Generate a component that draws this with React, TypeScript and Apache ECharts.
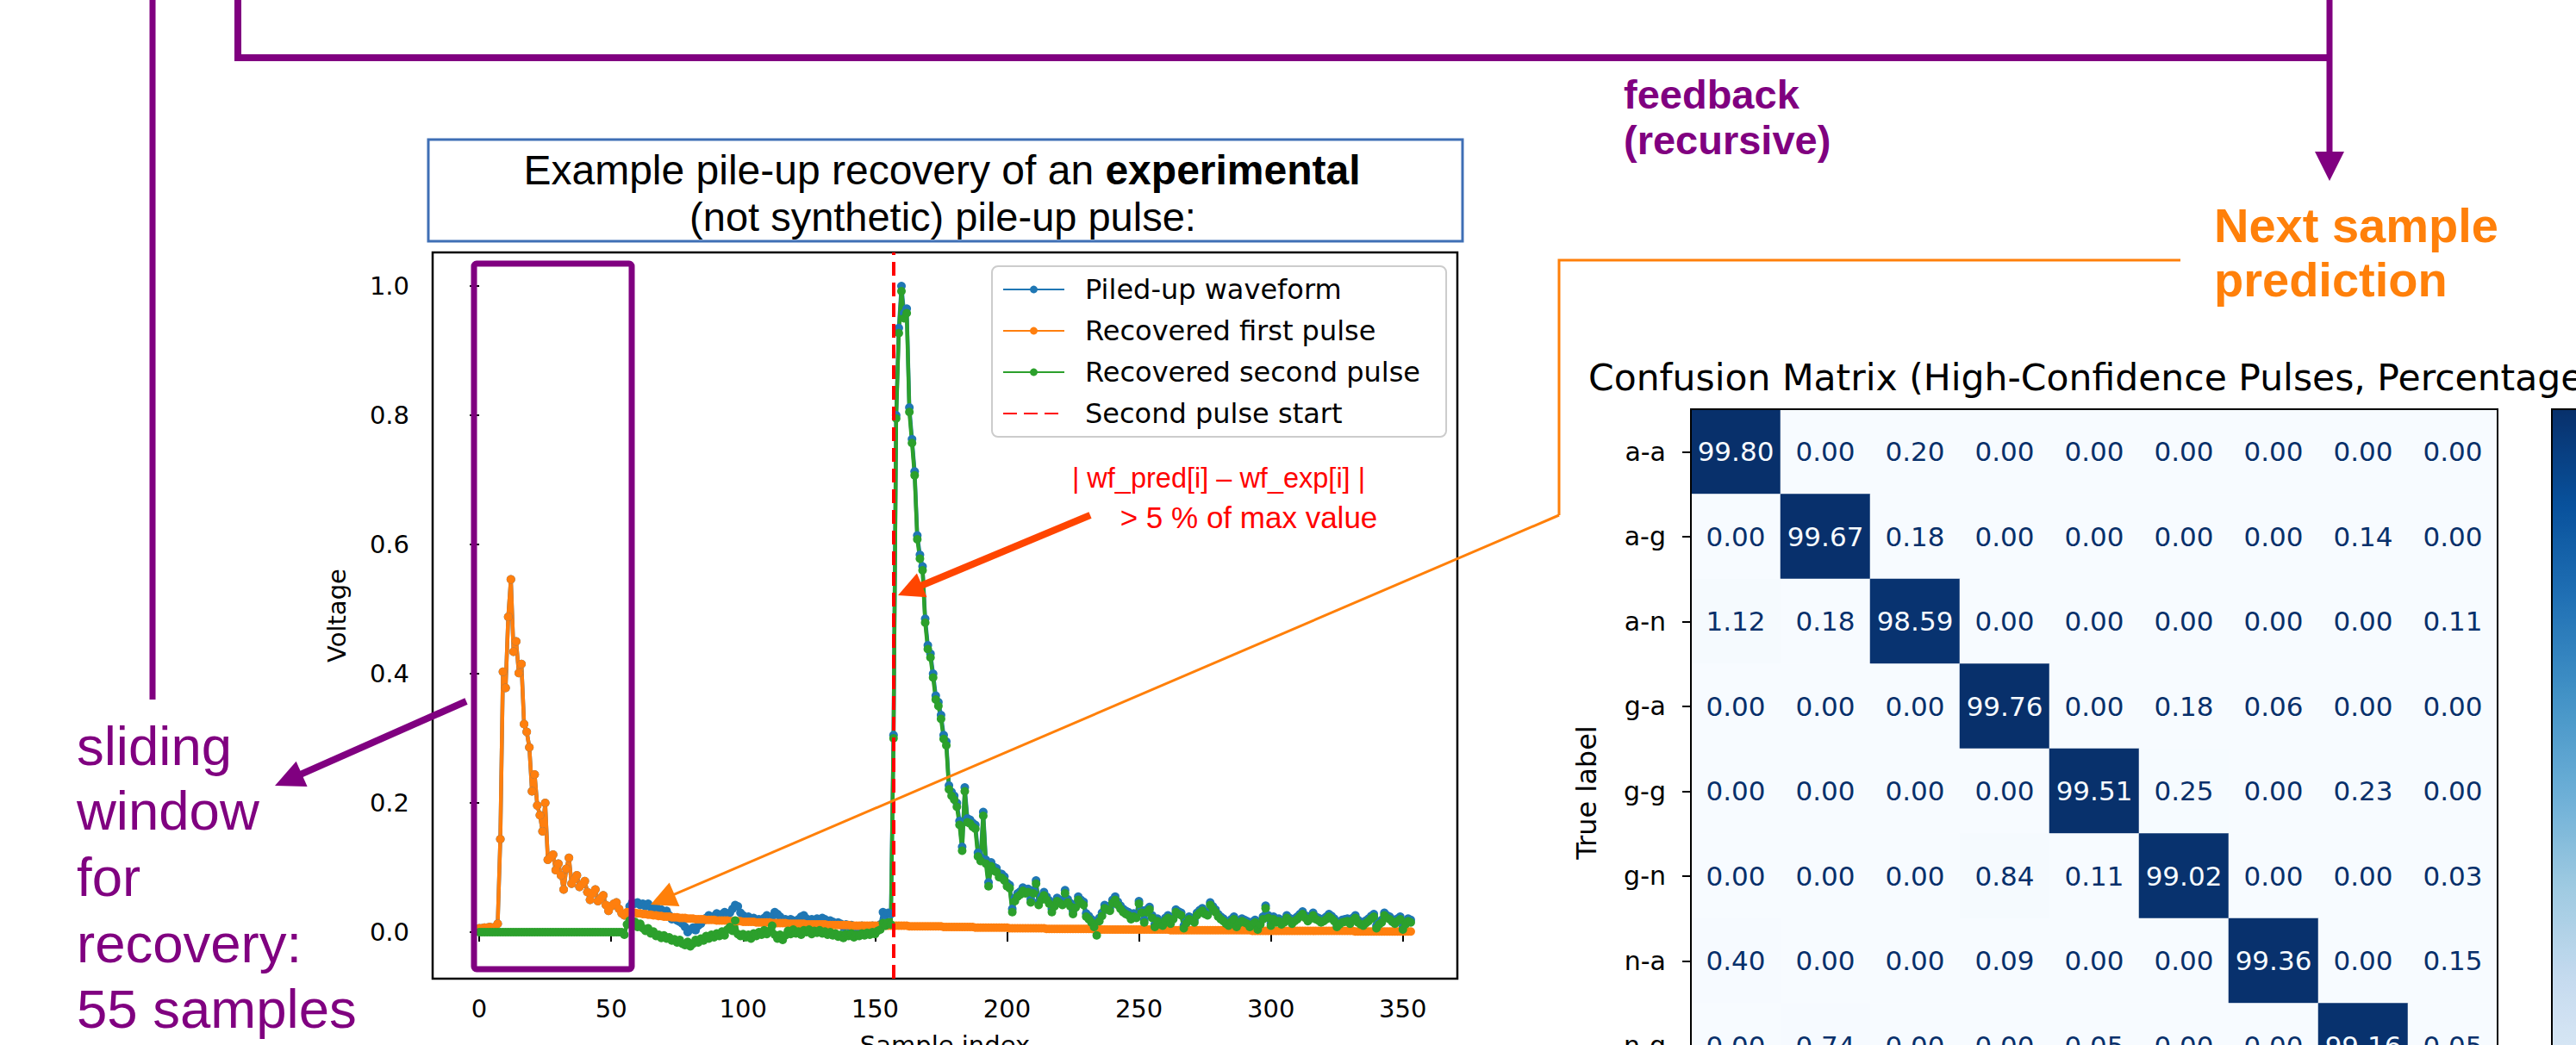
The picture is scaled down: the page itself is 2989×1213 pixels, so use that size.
import React, { useEffect, useRef } from 'react';
import * as echarts from 'echarts';

const W = 2989;
const H = 1213;

// ---------- waveform data (sample index = position in array) ----------
const piledUpWaveform = [
  0.006,0.006,0.007,0.007,0.008,0.007,0.008,0.013,0.144,0.403,
  0.378,0.488,0.546,0.434,0.450,0.401,0.415,0.322,0.310,0.286,
  0.218,0.244,0.196,0.181,0.156,0.200,0.112,0.116,0.120,0.096,
  0.106,0.088,0.066,0.098,0.115,0.075,0.082,0.088,0.070,0.074,
  0.079,0.062,0.050,0.060,0.066,0.048,0.052,0.057,0.042,0.033,
  0.040,0.044,0.046,0.036,0.029,0.026,0.030,0.040,0.046,0.044,
  0.046,0.042,0.044,0.040,0.044,0.039,0.037,0.040,0.031,0.035,
  0.030,0.033,0.026,0.020,0.022,0.018,0.016,0.013,0.008,0.000,
  0.004,0.007,0.003,0.010,0.013,0.018,0.022,0.026,0.020,0.025,
  0.029,0.024,0.028,0.031,0.026,0.030,0.036,0.042,0.040,0.030,
  0.026,0.022,0.024,0.020,0.022,0.018,0.020,0.016,0.022,0.026,
  0.022,0.024,0.031,0.028,0.024,0.018,0.020,0.016,0.020,0.018,
  0.016,0.020,0.024,0.026,0.021,0.018,0.020,0.017,0.021,0.019,
  0.022,0.020,0.015,0.018,0.016,0.012,0.015,0.013,0.008,0.012,
  0.009,0.011,0.006,0.009,0.007,0.010,0.006,0.004,0.007,0.010,
  0.008,0.009,0.012,0.031,0.026,0.030,0.028,0.305,0.800,0.935,
  1.000,0.958,0.965,0.812,0.763,0.713,0.614,0.584,0.566,0.485,
  0.444,0.431,0.400,0.366,0.356,0.336,0.305,0.295,0.227,0.217,
  0.211,0.200,0.172,0.132,0.224,0.176,0.174,0.169,0.166,0.123,
  0.116,0.186,0.112,0.077,0.108,0.101,0.099,0.091,0.090,0.086,
  0.076,0.073,0.036,0.053,0.060,0.063,0.069,0.065,0.067,0.051,
  0.065,0.080,0.047,0.055,0.062,0.055,0.049,0.036,0.045,0.053,
  0.050,0.047,0.065,0.051,0.045,0.033,0.043,0.055,0.050,0.047,
  0.029,0.025,0.020,0.013,0.000,0.022,0.030,0.042,0.040,0.038,
  0.050,0.055,0.047,0.041,0.036,0.033,0.031,0.025,0.029,0.027,
  0.048,0.034,0.019,0.035,0.039,0.026,0.012,0.021,0.016,0.014,
  0.022,0.026,0.017,0.024,0.035,0.032,0.030,0.010,0.018,0.024,
  0.022,0.019,0.030,0.034,0.037,0.032,0.030,0.046,0.040,0.035,
  0.028,0.024,0.021,0.017,0.014,0.020,0.024,0.012,0.018,0.021,
  0.019,0.017,0.012,0.016,0.019,0.008,0.016,0.024,0.041,0.026,
  0.014,0.024,0.019,0.021,0.016,0.019,0.026,0.022,0.017,0.021,
  0.024,0.028,0.032,0.026,0.021,0.025,0.030,0.024,0.022,0.019,
  0.021,0.024,0.028,0.025,0.021,0.012,0.016,0.019,0.020,0.021,
  0.017,0.022,0.026,0.019,0.016,0.014,0.018,0.021,0.025,0.028,
  0.010,0.016,0.019,0.030,0.026,0.024,0.020,0.017,0.021,0.024,
  0.008,0.016,0.021,0.019
];

const recoveredFirstPulse = [
  0.006,0.006,0.007,0.007,0.008,0.007,0.008,0.013,0.144,0.403,
  0.378,0.488,0.546,0.434,0.450,0.401,0.415,0.322,0.310,0.286,
  0.218,0.244,0.196,0.181,0.156,0.200,0.112,0.116,0.120,0.096,
  0.106,0.088,0.066,0.098,0.115,0.075,0.082,0.088,0.070,0.074,
  0.079,0.062,0.050,0.060,0.066,0.048,0.052,0.057,0.042,0.033,
  0.040,0.044,0.046,0.036,0.029,0.026,0.031,0.031,0.030,0.030,
  0.029,0.029,0.028,0.028,0.027,0.027,0.026,0.026,0.025,0.025,
  0.024,0.024,0.024,0.023,0.023,0.023,0.022,0.022,0.022,0.021,
  0.021,0.021,0.020,0.020,0.020,0.020,0.019,0.019,0.019,0.019,
  0.018,0.018,0.018,0.018,0.018,0.017,0.017,0.017,0.017,0.017,
  0.016,0.016,0.016,0.016,0.016,0.015,0.015,0.015,0.015,0.015,
  0.015,0.014,0.014,0.014,0.014,0.014,0.014,0.013,0.013,0.013,
  0.013,0.013,0.013,0.013,0.012,0.012,0.012,0.012,0.012,0.012,
  0.012,0.012,0.011,0.011,0.011,0.011,0.011,0.011,0.011,0.011,
  0.011,0.010,0.010,0.010,0.010,0.010,0.010,0.010,0.010,0.010,
  0.010,0.010,0.010,0.010,0.010,0.010,0.010,0.010,0.010,0.010,
  0.010,0.010,0.010,0.009,0.009,0.009,0.009,0.009,0.009,0.009,
  0.009,0.009,0.009,0.009,0.009,0.009,0.008,0.008,0.008,0.008,
  0.008,0.008,0.008,0.008,0.008,0.008,0.008,0.008,0.007,0.007,
  0.007,0.007,0.007,0.007,0.007,0.007,0.007,0.007,0.007,0.007,
  0.007,0.006,0.006,0.006,0.006,0.006,0.006,0.006,0.006,0.006,
  0.006,0.006,0.006,0.006,0.006,0.005,0.005,0.005,0.005,0.005,
  0.005,0.005,0.005,0.005,0.005,0.005,0.005,0.005,0.005,0.005,
  0.005,0.005,0.005,0.005,0.004,0.004,0.004,0.004,0.004,0.004,
  0.004,0.004,0.004,0.004,0.004,0.004,0.004,0.004,0.004,0.004,
  0.004,0.004,0.004,0.004,0.004,0.004,0.004,0.004,0.004,0.004,
  0.004,0.004,0.003,0.003,0.003,0.003,0.003,0.003,0.003,0.003,
  0.003,0.003,0.003,0.003,0.003,0.003,0.003,0.003,0.003,0.003,
  0.003,0.003,0.003,0.003,0.003,0.003,0.003,0.003,0.003,0.003,
  0.003,0.003,0.003,0.002,0.002,0.002,0.002,0.002,0.002,0.002,
  0.002,0.002,0.002,0.002,0.002,0.002,0.002,0.002,0.002,0.002,
  0.002,0.002,0.002,0.002,0.002,0.002,0.002,0.002,0.002,0.002,
  0.002,0.002,0.002,0.002,0.002,0.002,0.002,0.002,0.002,0.002,
  0.002,0.002,0.001,0.001,0.001,0.001,0.001,0.001,0.001,0.001,
  0.001,0.001,0.001,0.001,0.001,0.001,0.001,0.001,0.001,0.001,
  0.001,0.001,0.001,0.001
];

const recoveredSecondPulse = [
  0,0,0,0,0,0,0,0,0,0,
  0,0,0,0,0,0,0,0,0,0,
  0,0,0,0,0,0,0,0,0,0,
  0,0,0,0,0,0,0,0,0,0,
  0,0,0,0,0,0,0,0,0,0,
  0,0,0,0,0,-0.004,0.012,0.018,0.010,0.016,
  0.008,0.013,0.006,0.002,0.006,-0.002,0.001,-0.006,-0.004,-0.009,
  -0.005,-0.010,-0.008,-0.013,-0.011,-0.016,-0.012,-0.018,-0.020,-0.015,
  -0.022,-0.018,-0.012,-0.016,-0.010,-0.013,-0.006,-0.010,-0.004,-0.008,
  -0.002,-0.006,0.001,-0.005,0.004,0.008,0.002,0.018,-0.003,-0.006,
  -0.003,-0.008,-0.004,-0.010,-0.002,-0.006,0.000,-0.004,0.003,-0.003,
  0.002,0.010,-0.004,-0.010,-0.004,-0.012,-0.005,0.002,-0.003,0.004,
  -0.002,0.001,-0.004,0.003,0.000,0.004,-0.003,0.002,-0.001,0.003,
  -0.002,0.001,-0.004,0.000,-0.005,-0.002,-0.007,-0.004,-0.009,-0.003,
  -0.006,-0.002,-0.008,-0.004,-0.006,-0.002,-0.005,-0.001,-0.004,0.000,
  -0.003,0.002,0.004,0.014,0.010,0.015,0.012,0.300,0.795,0.927,
  0.992,0.950,0.958,0.805,0.757,0.707,0.608,0.578,0.560,0.479,
  0.438,0.425,0.394,0.360,0.350,0.330,0.299,0.289,0.221,0.211,
  0.205,0.194,0.166,0.126,0.218,0.170,0.168,0.163,0.160,0.117,
  0.110,0.180,0.106,0.071,0.102,0.095,0.093,0.085,0.084,0.080,
  0.071,0.068,0.031,0.048,0.055,0.058,0.064,0.060,0.062,0.046,
  0.060,0.075,0.042,0.050,0.057,0.050,0.044,0.031,0.040,0.048,
  0.045,0.042,0.060,0.046,0.040,0.028,0.038,0.050,0.045,0.042,
  0.024,0.020,0.015,0.008,-0.005,0.017,0.025,0.037,0.035,0.033,
  0.045,0.050,0.042,0.036,0.031,0.028,0.026,0.020,0.024,0.022,
  0.044,0.030,0.015,0.031,0.035,0.022,0.008,0.017,0.012,0.010,
  0.018,0.022,0.013,0.020,0.031,0.028,0.026,0.006,0.014,0.020,
  0.018,0.015,0.026,0.030,0.033,0.028,0.026,0.042,0.036,0.031,
  0.024,0.020,0.017,0.013,0.010,0.016,0.020,0.008,0.014,0.017,
  0.015,0.013,0.008,0.012,0.015,0.004,0.012,0.020,0.037,0.022,
  0.010,0.020,0.015,0.017,0.012,0.015,0.022,0.018,0.013,0.017,
  0.020,0.024,0.028,0.022,0.017,0.021,0.026,0.020,0.018,0.015,
  0.017,0.020,0.024,0.021,0.017,0.008,0.012,0.015,0.016,0.017,
  0.013,0.018,0.022,0.015,0.012,0.010,0.014,0.017,0.021,0.024,
  0.006,0.012,0.015,0.026,0.022,0.020,0.016,0.013,0.017,0.020,
  0.004,0.012,0.017,0.015
];

const secondPulseStart = 157;
const xTickValues = [0, 50, 100, 150, 200, 250, 300, 350];
const yTickValues = [0, 0.2, 0.4, 0.6, 0.8, 1.0];

// ---------- confusion matrix (percentages) ----------
const cmLabels = ['a-a', 'a-g', 'a-n', 'g-a', 'g-g', 'g-n', 'n-a', 'n-g', 'n-n'];
const rowAA = [99.80, 0.00, 0.20, 0.00, 0.00, 0.00, 0.00, 0.00, 0.00];
const rowAG = [0.00, 99.67, 0.18, 0.00, 0.00, 0.00, 0.00, 0.14, 0.00];
const rowAN = [1.12, 0.18, 98.59, 0.00, 0.00, 0.00, 0.00, 0.00, 0.11];
const rowGA = [0.00, 0.00, 0.00, 99.76, 0.00, 0.18, 0.06, 0.00, 0.00];
const rowGG = [0.00, 0.00, 0.00, 0.00, 99.51, 0.25, 0.00, 0.23, 0.00];
const rowGN = [0.00, 0.00, 0.00, 0.84, 0.11, 99.02, 0.00, 0.00, 0.03];
const rowNA = [0.40, 0.00, 0.00, 0.09, 0.00, 0.00, 99.36, 0.00, 0.15];
const rowNG = [0.00, 0.74, 0.00, 0.00, 0.05, 0.00, 0.00, 99.16, 0.05];
const cmVisibleRows = ['a-a', 'a-g', 'a-n', 'g-a', 'g-g', 'g-n', 'n-a', 'n-g'];

const BLUES = ['#f7fbff', '#deebf7', '#c6dbef', '#9ecae1', '#6baed6', '#4292c6', '#2171b5', '#08519c', '#08306b'];
const PURPLE = '#800080';
const ANNOT_ORANGE = '#ff800a';
const MPL = 'DejaVu Sans';
const ARIAL = '"Liberation Sans", Arial, sans-serif';

function arrow(x1: number, y1: number, x2: number, y2: number, color: string, lw: number, len: number, half: number) {
  const dx = x2 - x1, dy = y2 - y1;
  const d = Math.hypot(dx, dy);
  const ux = dx / d, uy = dy / d;
  const bx = x2 - ux * len, by = y2 - uy * len;
  const nx = -uy, ny = ux;
  return [
    { type: 'line', z: 100, shape: { x1, y1, x2: bx + ux * 2, y2: by + uy * 2 }, style: { stroke: color, lineWidth: lw } },
    { type: 'polygon', z: 101, shape: { points: [[x2, y2], [bx + nx * half, by + ny * half], [bx - nx * half, by - ny * half]] }, style: { fill: color } },
  ];
}

function txt(text: string, x: number, y: number, font: string, fill: string, align = 'left', extra: any = {}) {
  return {
    type: 'text', z: 102, x, y, ...extra,
    style: { text, x: 0, y: 0, font, fill, textAlign: align, align, textVerticalAlign: 'middle', verticalAlign: 'middle' },
  };
}

export default function App() {
  const ref = useRef<HTMLDivElement>(null);
  useEffect(() => {
    document.body.style.margin = '0';
    const chart = echarts.init(ref.current!, null, { renderer: 'svg', width: W, height: H });

    const toPairs = (arr: number[]) => arr.map((v, i) => [i, v]);
    const cmRows = [rowAA, rowAG, rowAN, rowGA, rowGG, rowGN, rowNA, rowNG];
    const heatData: number[][] = [];
    cmRows.forEach((r, ri) => r.forEach((v, ci) => heatData.push([ci, ri, v])));

    const lineSeries = (name: string, color: string, arr: number[]) => ({
      name, type: 'line', xAxisIndex: 0, yAxisIndex: 0,
      data: toPairs(arr), symbol: 'circle', symbolSize: 10, showSymbol: true, showAllSymbol: true,
      itemStyle: { color }, lineStyle: { color, width: 4.5 }, emphasis: { disabled: true }, silent: true,
    });

    const gridL = 502, gridT = 293, gridW = 1189, gridH = 843;
    const cmL = 1962, cmT = 475, cmCellW = 104, cmCellH = 98.5;

    const graphics: any[] = [
      // purple feedback bracket
      { type: 'polyline', z: 100, shape: { points: [[276, -10], [276, 67], [2703, 67]] }, style: { stroke: PURPLE, lineWidth: 8, fill: null } },
      ...arrow(2703, -10, 2703, 210, PURPLE, 7, 34, 17),
      { type: 'line', z: 100, shape: { x1: 177, y1: -10, x2: 177, y2: 812 }, style: { stroke: PURPLE, lineWidth: 7 } },
      ...arrow(541, 814, 319, 912, PURPLE, 8, 34, 16),
      // sliding window box on the plot
      { type: 'rect', z: 100, shape: { x: 550, y: 306, width: 183, height: 819, r: 3 }, style: { stroke: PURPLE, lineWidth: 7, fill: null } },
      // orange connector
      { type: 'polyline', z: 100, shape: { points: [[2530, 302], [1809, 302], [1809, 598]] }, style: { stroke: ANNOT_ORANGE, lineWidth: 3, fill: null } },
      ...arrow(1809, 598, 755, 1050, ANNOT_ORANGE, 3, 30, 15),
      // red arrow
      ...arrow(1265, 598, 1042, 691, '#ff4500', 8, 30, 15),
      // title box
      { type: 'rect', z: 100, shape: { x: 497, y: 162, width: 1200, height: 118 }, style: { stroke: '#3f6fb5', lineWidth: 3, fill: '#fff' } },
      {
        type: 'text', z: 102, x: 1093, y: 197,
        style: {
          text: '{n|Example pile-up recovery of an }{b|experimental}', x: 0, y: 0,
          textAlign: 'center', align: 'center', textVerticalAlign: 'middle', verticalAlign: 'middle',
          rich: {
            n: { fontFamily: ARIAL, fontSize: 48, fill: '#000', color: '#000' },
            b: { fontFamily: ARIAL, fontSize: 48, fontWeight: 'bold', fill: '#000', color: '#000' },
          },
        },
      },
      txt('(not synthetic) pile-up pulse:', 1094, 251, `47px ${ARIAL}`, '#000', 'center'),
      // annotation texts
      txt('feedback', 1884, 109, `bold 47px ${ARIAL}`, PURPLE),
      txt('(recursive)', 1884, 162, `bold 47px ${ARIAL}`, PURPLE),
      txt('Next sample', 2569, 261, `bold 56px ${ARIAL}`, ANNOT_ORANGE),
      txt('prediction', 2569, 324, `bold 56px ${ARIAL}`, ANNOT_ORANGE),
      txt('sliding', 89, 866, `63.5px ${ARIAL}`, PURPLE),
      txt('window', 89, 941, `63.5px ${ARIAL}`, PURPLE),
      txt('for', 89, 1018, `63.5px ${ARIAL}`, PURPLE),
      txt('recovery:', 89, 1095, `63.5px ${ARIAL}`, PURPLE),
      txt('55 samples', 89, 1171, `63.5px ${ARIAL}`, PURPLE),
      txt('| wf_pred[i] – wf_exp[i] |', 1414, 555, `32.5px ${ARIAL}`, '#ff0000', 'center'),
      txt('> 5 % of max value', 1449, 600, `35px ${ARIAL}`, '#ff0000', 'center'),
      // confusion matrix title and y name
      txt('Confusion Matrix (High-Confidence Pulses, Percentages)', 1843, 438, `42.5px "${MPL}"`, '#000'),
      txt('True label', 1841, 920, `32px "${MPL}"`, '#000', 'center', { rotation: Math.PI / 2 }),
      // matrix frame and colorbar frame
      { type: 'rect', z: 100, shape: { x: cmL, y: cmT, width: cmCellW * 9, height: cmCellH * 9 }, style: { stroke: '#000', lineWidth: 2, fill: null } },
      { type: 'rect', z: 100, shape: { x: 2961, y: cmT, width: 45, height: cmCellH * 9 }, style: { stroke: '#000', lineWidth: 2, fill: null } },
    ];

    const option: any = {
      animation: false,
      backgroundColor: '#ffffff',
      grid: [
        { left: gridL, top: gridT, width: gridW, height: gridH, show: true, borderColor: '#000', borderWidth: 2.5, backgroundColor: 'transparent', containLabel: false, outerBoundsMode: 'none' },
        { left: cmL, top: cmT, width: cmCellW * 9, height: cmCellH * 8, containLabel: false, outerBoundsMode: 'none' },
      ],
      xAxis: [
        {
          type: 'value', gridIndex: 0, min: -17.65, max: 370.65,
          splitLine: { show: false }, axisLine: { show: false },
          axisTick: { show: true, length: 11, lineStyle: { color: '#000', width: 2 }, customValues: xTickValues },
          axisLabel: { customValues: xTickValues, fontFamily: MPL, fontSize: 29, color: '#000', margin: 20 },
          name: 'Sample index', nameLocation: 'middle', nameGap: 62,
          nameTextStyle: { fontFamily: MPL, fontSize: 29, color: '#000' },
        },
        {
          type: 'category', gridIndex: 1, data: cmLabels,
          axisLine: { show: false }, axisTick: { show: false }, axisLabel: { show: false }, splitLine: { show: false },
        },
      ],
      yAxis: [
        {
          type: 'value', gridIndex: 0, min: -0.072, max: 1.052,
          splitLine: { show: false }, axisLine: { show: false },
          axisTick: { show: true, length: 11, lineStyle: { color: '#000', width: 2 }, customValues: yTickValues },
          axisLabel: { customValues: yTickValues, fontFamily: MPL, fontSize: 29, color: '#000', margin: 27, formatter: (v: number) => v.toFixed(1) },
          name: 'Voltage', nameLocation: 'middle', nameGap: 97, nameRotate: 90,
          nameTextStyle: { fontFamily: MPL, fontSize: 29, color: '#000' },
        },
        {
          type: 'category', gridIndex: 1, data: cmVisibleRows, inverse: true,
          axisLine: { show: false },
          axisTick: { show: true, alignWithLabel: true, length: 10, lineStyle: { color: '#000', width: 2 } },
          axisLabel: { fontFamily: MPL, fontSize: 30, color: '#000', margin: 29 },
          splitLine: { show: false },
        },
      ],
      legend: {
        orient: 'vertical', left: 1151, top: 309, padding: [11, 30, 11, 12],
        itemGap: 16, itemWidth: 71, itemHeight: 11,
        backgroundColor: 'rgba(255,255,255,0.85)', borderColor: '#cccccc', borderWidth: 2, borderRadius: 7,
        textStyle: { fontFamily: MPL, fontSize: 32, color: '#000', lineHeight: 32, padding: [0, 0, 0, 19] },
        selectedMode: false,
        data: [
          { name: 'Piled-up waveform' },
          { name: 'Recovered first pulse' },
          { name: 'Recovered second pulse' },
          { name: 'Second pulse start', itemStyle: { opacity: 0 } },
        ],
      },
      visualMap: {
        type: 'continuous', seriesIndex: 4, min: 0, max: 99.8, calculable: false,
        inRange: { color: BLUES }, left: 2961, top: cmT, itemWidth: 45, itemHeight: cmCellH * 9,
        padding: 0, orient: 'vertical', hoverLink: false,
      },
      series: [
        lineSeries('Piled-up waveform', '#1f77b4', piledUpWaveform),
        lineSeries('Recovered first pulse', '#ff7f0e', recoveredFirstPulse),
        lineSeries('Recovered second pulse', '#2ca02c', recoveredSecondPulse),
        {
          name: 'Second pulse start', type: 'line', xAxisIndex: 0, yAxisIndex: 0, data: [],
          symbol: 'none', itemStyle: { color: '#ff0000' },
          lineStyle: { color: '#ff0000', width: 4, type: [16, 8] },
          markLine: {
            silent: true, symbol: ['none', 'none'], label: { show: false },
            lineStyle: { color: '#ff0000', width: 4, type: [16, 8] },
            data: [{ xAxis: secondPulseStart }],
          },
        },
        {
          type: 'heatmap', xAxisIndex: 1, yAxisIndex: 1, data: heatData, silent: true,
          itemStyle: { borderWidth: 0 },
          label: {
            show: true, fontFamily: MPL, fontSize: 31,
            formatter: (p: any) => (p.value[2] >= 50 ? '{d|' : '{l|') + p.value[2].toFixed(2) + '}',
            rich: {
              d: { color: '#f7fbff', fontFamily: MPL, fontSize: 31 },
              l: { color: '#08306b', fontFamily: MPL, fontSize: 31 },
            },
          },
          emphasis: { disabled: true },
        },
      ],
      graphic: graphics,
    };

    chart.setOption(option);
    return () => chart.dispose();
  }, []);

  return <div ref={ref} style={{ position: 'fixed', left: 0, top: 0, width: W, height: H, background: '#fff' }} />;
}
